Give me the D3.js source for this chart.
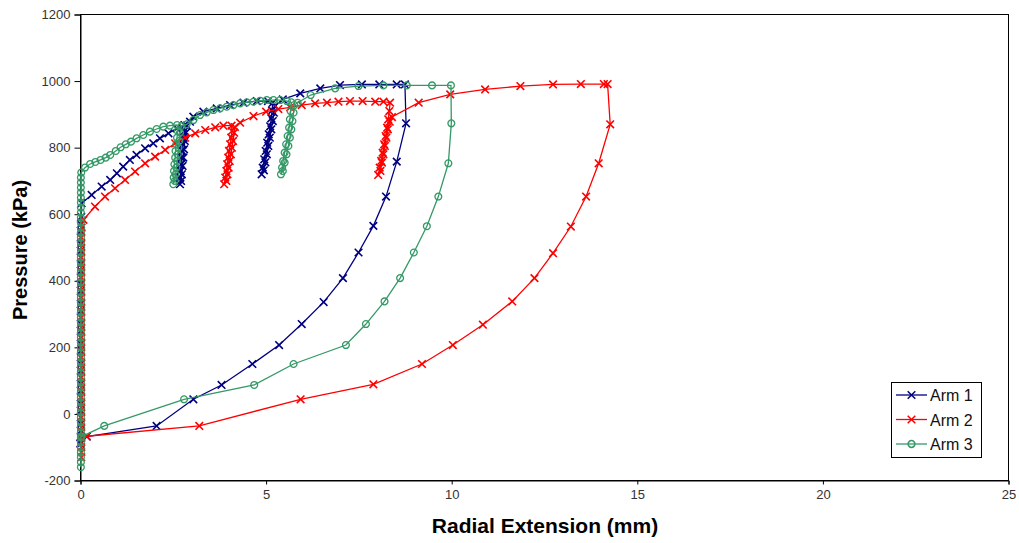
<!DOCTYPE html>
<html>
<head>
<meta charset="utf-8">
<script src="https://cdn.jsdelivr.net/npm/d3@7"></script>
<style>
  body { margin: 0; background: #fff; }
  text { font-family: Arial, "Liberation Sans", sans-serif; }
</style>
</head>
<body>
<div class="chart"></div>
<script>
// [extension mm, pressure kPa]
const arm1 = [
  [0, -88], [0.01, -70], [0.01, -50], [0.01, -30], [0.01, -10], [0.01, 10], [0.01, 30], [0.01, 50], [0.01, 70],
  [0.01, 90], [0.01, 110], [0.01, 130], [0.01, 150], [0.01, 170], [0.01, 190], [0.01, 210], [0.01, 230],
  [0.01, 250], [0.01, 270], [0.01, 290], [0.01, 310], [0.01, 330], [0.01, 350], [0.01, 370], [0.01, 390],
  [0.01, 410], [0.01, 430], [0.01, 450], [0.01, 470], [0.01, 490], [0.01, 510], [0.01, 530], [0.01, 550],
  [0.01, 570], [0.02, 592],
  [0.03, 633], [0.30, 658], [0.57, 683], [0.80, 703], [0.98, 723], [1.15, 743], [1.33, 763], [1.51, 778],
  [1.74, 798], [1.96, 813], [2.14, 828], [2.37, 843], [2.59, 858], [2.80, 868],
  [2.80, 850], [2.78, 830], [2.76, 810], [2.74, 790], [2.72, 770], [2.71, 750], [2.70, 730], [2.69, 710], [2.68, 690],
  [2.71, 700], [2.73, 720], [2.75, 745], [2.77, 770], [2.79, 795], [2.81, 820], [2.84, 845], [2.87, 866],
  [2.95, 878], [3.04, 893], [3.31, 908], [3.67, 918], [4.03, 928], [4.39, 935], [4.75, 940], [5.05, 940], [5.18, 935],
  [5.16, 912], [5.14, 888], [5.11, 864], [5.07, 840], [5.03, 815], [4.99, 790], [4.95, 765], [4.91, 740], [4.88, 720],
  [4.94, 732], [4.98, 756], [5.02, 780], [5.06, 805], [5.10, 830], [5.14, 855], [5.18, 880], [5.21, 905], [5.24, 925],
  [5.45, 945], [5.92, 963], [6.46, 978], [6.99, 988], [7.58, 990], [8.05, 990], [8.52, 990], [8.74, 990],
  [8.77, 873], [8.52, 758], [8.23, 653], [7.89, 565], [7.49, 485], [7.07, 408], [6.55, 336], [5.96, 270],
  [5.35, 207], [4.63, 150], [3.80, 87], [3.04, 44], [2.05, -36], [0.17, -68], [0, -90]
]
const arm2 = [
  [0.02, -130], [0.02, -115], [0.02, -100], [0.02, -85], [0.02, -70], [0.02, -55], [0.02, -40], [0.02, -25],
  [0.02, -10], [0.02, 5], [0.02, 20], [0.02, 35], [0.02, 50], [0.02, 65], [0.02, 80], [0.02, 95], [0.02, 110],
  [0.02, 125], [0.02, 140], [0.02, 155], [0.02, 170], [0.02, 185], [0.02, 200], [0.02, 215], [0.02, 230],
  [0.02, 245], [0.02, 260], [0.02, 275], [0.02, 290], [0.02, 305], [0.02, 320], [0.02, 335], [0.02, 350],
  [0.02, 365], [0.02, 380], [0.02, 395], [0.02, 410], [0.02, 425], [0.02, 440], [0.02, 455], [0.02, 470],
  [0.02, 485], [0.02, 500], [0.02, 515], [0.02, 530], [0.02, 545], [0.03, 560],
  [0.08, 583], [0.39, 623], [0.66, 653], [0.93, 678], [1.20, 703], [1.47, 728], [1.74, 753], [2.01, 773],
  [2.28, 793], [2.55, 813], [2.82, 830], [3.09, 843], [3.36, 853], [3.63, 861], [3.85, 866], [4.07, 866],
  [4.08, 850], [4.06, 830], [4.03, 810], [4.00, 790], [3.98, 770], [3.95, 750], [3.93, 730], [3.90, 710], [3.87, 690],
  [3.93, 700], [3.96, 720], [3.99, 740], [4.02, 760], [4.05, 780], [4.08, 800], [4.11, 820], [4.14, 845], [4.16, 862],
  [4.30, 875], [4.66, 895], [5.00, 908], [5.33, 916], [5.65, 921], [5.96, 928], [6.32, 933], [6.64, 935],
  [6.95, 938], [7.26, 940], [7.60, 940], [7.94, 938], [8.16, 938], [8.34, 935],
  [8.32, 910], [8.29, 885], [8.26, 860], [8.22, 835], [8.18, 810], [8.14, 785], [8.10, 760], [8.06, 740], [8.02, 718],
  [8.08, 730], [8.12, 755], [8.16, 780], [8.20, 805], [8.24, 830], [8.28, 855], [8.33, 878], [8.39, 892],
  [9.11, 935], [9.96, 960], [10.90, 975], [11.85, 985], [12.73, 990], [13.48, 991], [14.10, 991], [14.20, 991],
  [14.27, 870], [13.96, 753], [13.62, 653], [13.21, 563], [12.73, 483], [12.23, 408], [11.63, 338], [10.84, 268],
  [10.03, 207], [9.20, 150], [7.89, 89], [5.93, 44], [3.20, -36], [0.17, -67], [0.02, -72]
]
const arm3 = [
  [0.01, -160], [0.01, -145], [0.01, -130], [0.01, -115], [0.01, -100], [0.01, -85], [0.01, -70], [0.01, -55],
  [0.01, -40], [0.01, -25], [0.01, -10], [0.01, 5], [0.01, 20], [0.01, 35], [0.01, 50], [0.01, 65], [0.01, 80],
  [0.01, 95], [0.01, 110], [0.01, 125], [0.01, 140], [0.01, 155], [0.01, 170], [0.01, 185], [0.01, 200],
  [0.01, 215], [0.01, 230], [0.01, 245], [0.01, 260], [0.01, 275], [0.01, 290], [0.01, 305], [0.01, 320],
  [0.01, 335], [0.01, 350], [0.01, 365], [0.01, 380], [0.01, 395], [0.01, 410], [0.01, 425], [0.01, 440],
  [0.01, 455], [0.01, 470], [0.01, 485], [0.01, 500], [0.01, 515], [0.01, 530], [0.01, 545], [0.01, 560],
  [0.01, 575], [0.01, 590], [0.01, 605], [0.01, 620], [0.01, 635], [0.01, 650], [0.01, 665], [0.01, 680],
  [0.01, 695], [0.01, 710], [0.02, 725],
  [0.12, 740], [0.26, 751], [0.40, 757], [0.54, 763], [0.68, 770], [0.80, 778], [0.95, 790], [1.08, 801],
  [1.22, 810], [1.36, 818], [1.51, 828], [1.69, 838], [1.87, 848], [2.05, 856], [2.23, 863], [2.41, 866], [2.60, 868],
  [2.62, 850], [2.60, 830], [2.58, 810], [2.56, 790], [2.55, 770], [2.53, 750], [2.52, 730], [2.51, 710], [2.50, 690],
  [2.54, 700], [2.56, 720], [2.58, 740], [2.60, 760], [2.62, 780], [2.64, 800], [2.66, 820], [2.68, 845], [2.72, 865],
  [2.86, 870], [3.04, 883], [3.22, 898], [3.40, 906], [3.58, 913], [3.76, 918], [3.94, 923], [4.12, 928],
  [4.30, 933], [4.48, 936], [4.66, 938], [4.84, 941], [5.02, 943], [5.20, 943], [5.38, 943], [5.56, 940], [5.68, 936],
  [5.66, 910], [5.64, 885], [5.62, 860], [5.58, 835], [5.54, 810], [5.50, 785], [5.46, 760], [5.43, 740], [5.40, 720],
  [5.45, 730], [5.50, 755], [5.55, 780], [5.60, 805], [5.64, 830], [5.68, 855], [5.71, 880], [5.74, 905], [5.76, 928],
  [5.85, 935], [6.20, 958], [6.86, 978], [7.49, 985], [8.16, 987], [8.79, 987], [9.47, 987], [9.98, 987],
  [9.99, 873], [9.91, 753], [9.64, 653], [9.33, 564], [8.98, 485], [8.61, 408], [8.19, 338], [7.69, 270],
  [7.15, 207], [5.74, 150], [4.68, 87], [2.79, 44], [0.64, -36], [0.03, -68]
]

const seriesNames = ['Arm 1', 'Arm 2', 'Arm 3']
const xTicks = [0, 5, 10, 15, 20, 25]
const yTicks = [-200, 0, 200, 400, 600, 800, 1000, 1200]

const colors = ['#000080', '#ff0000', '#339966']
const markers = ['cross', 'cross', 'circle']

createChart([arm1, arm2, arm3], '.chart')


//helpers

function createChart(allSeries, target) {
  const W = 1019
  const H = 543
  const left = 80.5, right = 1008.5, top = 14.5, bottom = 480.5

  const x = d3.scaleLinear().domain([0, 25]).range([left, right])
  const y = d3.scaleLinear().domain([-200, 1200]).range([bottom, top])

  const svg = d3.select(target)
    .append('svg')
    .attr('width', W)
    .attr('height', H)

  // plot frame
  svg.append('rect')
    .attr('x', left).attr('y', top)
    .attr('width', right - left).attr('height', bottom - top)
    .attr('fill', 'none').attr('stroke', '#000').attr('stroke-width', 1)

  const xAxis = svg.append('g')
    .attr('transform', `translate(0,${bottom})`)
    .call(d3.axisBottom(x).tickValues(xTicks).tickSize(4).tickPadding(5).tickFormat((d) => String(d)))
  const yAxis = svg.append('g')
    .attr('transform', `translate(${left},0)`)
    .call(d3.axisLeft(y).tickValues(yTicks).tickSize(6).tickPadding(4).tickFormat((d) => String(d)))

  for (const ax of [xAxis, yAxis]) {
    ax.select('.domain').attr('stroke', '#000')
    ax.selectAll('.tick line').attr('stroke', '#000')
    ax.selectAll('.tick text')
      .attr('fill', '#333')
      .style('font-size', '13px')
  }

  const line = d3.line()
    .x((d) => x(d[0]))
    .y((d) => y(d[1]))

  allSeries.forEach((data, i) => {
    const g = svg.append('g')
    g.append('path')
      .datum(data)
      .attr('d', line)
      .attr('fill', 'none')
      .attr('stroke', colors[i])
      .attr('stroke-width', 1.3)
    g.selectAll('.mk')
      .data(data)
      .enter()
      .append('path')
      .attr('class', 'mk')
      .attr('transform', (d) => `translate(${x(d[0])},${y(d[1])})`)
      .attr('d', markerPath(markers[i]))
      .attr('fill', 'none')
      .attr('stroke', colors[i])
      .attr('stroke-width', markers[i] === 'circle' ? 1.3 : 1.6)
  })

  // axis titles
  svg.append('text')
    .attr('transform', 'translate(27,250) rotate(-90)')
    .attr('text-anchor', 'middle')
    .style('font-size', '20px')
    .style('font-weight', 'bold')
    .text('Pressure (kPa)')

  svg.append('text')
    .attr('x', 545)
    .attr('y', 533)
    .attr('text-anchor', 'middle')
    .style('font-size', '21px')
    .style('font-weight', 'bold')
    .text('Radial Extension (mm)')

  // legend
  const lg = svg.append('g')
  lg.append('rect')
    .attr('x', 891.5).attr('y', 382.5)
    .attr('width', 90).attr('height', 75)
    .attr('fill', '#fff').attr('stroke', '#000').attr('stroke-width', 1)

  const item = lg.selectAll('.item')
    .data(seriesNames)
    .enter()
    .append('g')
    .attr('transform', (d, i) => `translate(896,${395 + i * 24.5})`)

  item.append('line')
    .attr('x1', 0).attr('x2', 31)
    .attr('stroke', (d, i) => colors[i])
    .attr('stroke-width', 1.3)
  item.append('path')
    .attr('transform', 'translate(15.5,0)')
    .attr('d', (d, i) => markerPath(markers[i]))
    .attr('fill', 'none')
    .attr('stroke', (d, i) => colors[i])
    .attr('stroke-width', 1.5)
  item.append('text')
    .attr('x', 34)
    .attr('y', 6)
    .style('font-size', '16px')
    .attr('fill', '#111')
    .text((d) => d)
}

function markerPath(kind) {
  if (kind === 'circle') {
    const r = 3.4
    return `M${r},0A${r},${r} 0 1,1 ${-r},0A${r},${r} 0 1,1 ${r},0Z`
  }
  const s = 3.8
  return `M${-s},${-s}L${s},${s}M${-s},${s}L${s},${-s}`
}
</script>
</body>
</html>
